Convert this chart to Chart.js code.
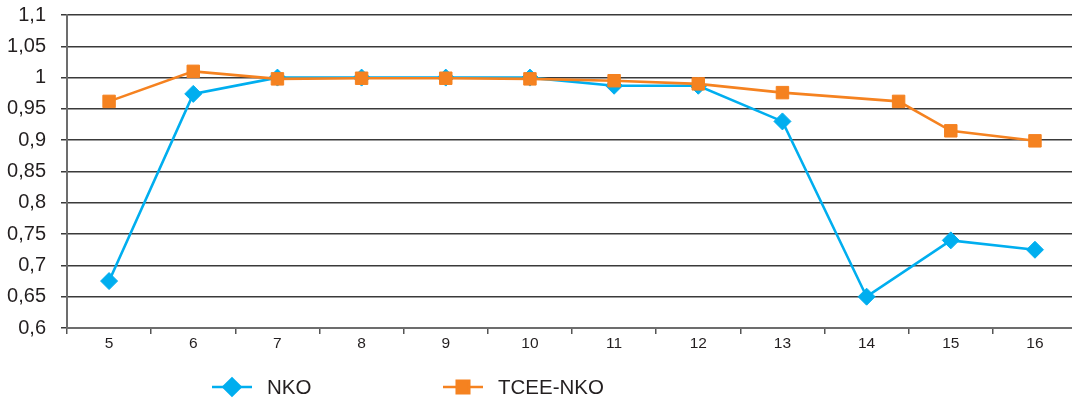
<!DOCTYPE html>
<html>
<head>
<meta charset="utf-8">
<script src="https://cdn.jsdelivr.net/npm/chart.js@4.4.0/dist/chart.umd.min.js"></script>
<style>
  html, body { margin: 0; padding: 0; background: #fff; overflow: hidden; }
  canvas { display: block; }
</style>
</head>
<body>
<canvas id="chart" width="1072" height="406"></canvas>
<script>
// Category positions along the x axis
const categories = [5, 6, 7, 8, 9, 10, 11, 12, 13, 14, 15, 16];

// NKO series
const nkoX = [5, 6, 7, 8, 9, 10, 11, 12, 13, 14, 15, 16];
const nkoValues = [0.675, 0.974, 1.0, 1.0, 1.0, 1.0, 0.987, 0.987, 0.930, 0.650, 0.740, 0.725];

// TCEE-NKO series
const tceeX = [5, 6, 7, 8, 9, 10, 11, 12, 13, 14.38, 15, 16];
const tceeValues = [0.962, 1.010, 0.998, 0.999, 0.999, 0.998, 0.995, 0.990, 0.976, 0.962, 0.915, 0.899];

// Value axis ticks
const yTicks = [0.6, 0.65, 0.7, 0.75, 0.8, 0.85, 0.9, 0.95, 1.0, 1.05, 1.1];

const seriesNames = ['NKO', 'TCEE-NKO'];

const BLUE = '#00AEEF';
const ORANGE = '#F58220';
const TEXT = '#231F20';
const FONT = '"Liberation Sans", Arial, Helvetica, sans-serif';

const toPoints = (xs, ys) => xs.map((x, i) => ({ x: x, y: ys[i] }));
const fmtComma = v => String(Math.round(v * 100) / 100).replace('.', ',');

// Legend below the plot: a short line with the series marker, then the name
const lineLegend = {
  id: 'lineLegend',
  afterDraw(chart, args, opts) {
    const ctx = chart.ctx;
    ctx.save();
    chart.data.datasets.slice().sort((a, b) => a.legendIndex - b.legendIndex).forEach((ds, i) => {
      const x0 = opts.starts[i];
      const y = opts.y;
      ctx.strokeStyle = ds.borderColor;
      ctx.lineWidth = ds.borderWidth;
      ctx.beginPath();
      ctx.moveTo(x0, y);
      ctx.lineTo(x0 + opts.lineLen, y);
      ctx.stroke();
      ctx.fillStyle = ds.pointBackgroundColor;
      ctx.strokeStyle = ds.pointBorderColor;
      Chart.helpers.drawPoint(ctx, {
        pointStyle: ds.pointStyle,
        radius: ds.pointRadius,
        rotation: 0,
        borderWidth: ds.pointBorderWidth
      }, x0 + opts.lineLen / 2, y);
      ctx.fillStyle = TEXT;
      ctx.font = opts.font;
      ctx.textAlign = 'left';
      ctx.textBaseline = 'middle';
      ctx.fillText(ds.label, x0 + opts.lineLen + opts.gap, y + 1);
    });
    ctx.restore();
  }
};

new Chart(document.getElementById('chart'), {
  type: 'line',
  data: {
    datasets: [
      {
        label: seriesNames[1],
        legendIndex: 1,
        data: toPoints(tceeX, tceeValues),
        borderColor: ORANGE,
        backgroundColor: ORANGE,
        borderWidth: 2.6,
        pointStyle: 'rect',
        pointRadius: 8.8,
        pointBackgroundColor: ORANGE,
        pointBorderColor: ORANGE,
        pointBorderWidth: 1,
        tension: 0,
        order: 1
      },
      {
        label: seriesNames[0],
        legendIndex: 0,
        data: toPoints(nkoX, nkoValues),
        borderColor: BLUE,
        backgroundColor: BLUE,
        borderWidth: 2.6,
        pointStyle: 'rectRot',
        pointRadius: 8.5,
        pointBackgroundColor: BLUE,
        pointBorderColor: BLUE,
        pointBorderWidth: 1,
        tension: 0,
        order: 2
      }
    ]
  },
  options: {
    responsive: false,
    animation: false,
    events: [],
    layout: { autoPadding: false, padding: { top: 15, right: 0, left: 0, bottom: 0 } },
    plugins: {
      legend: { display: false },
      tooltip: { enabled: false },
      lineLegend: {
        starts: [212, 443],
        y: 387,
        lineLen: 40,
        gap: 15,
        font: '20.5px ' + FONT
      }
    },
    scales: {
      x: {
        type: 'linear',
        min: 4.5,
        max: 16.44,
        afterBuildTicks: s => { s.ticks = categories.map(v => ({ value: v })); },
        afterFit: s => { s.height = 78; s.paddingLeft = 0; s.paddingRight = 0; },
        ticks: {
          autoSkip: false,
          maxRotation: 0,
          padding: 0,
          color: TEXT,
          font: { family: FONT, size: 15.5 },
          callback: v => String(v)
        },
        grid: {
          offset: true,
          drawOnChartArea: false,
          drawTicks: true,
          tickLength: 6,
          color: '#555',
          lineWidth: 1.5
        },
        border: { color: '#6d6d6d', width: 2 }
      },
      y: {
        type: 'linear',
        min: 0.6,
        max: 1.1,
        afterBuildTicks: s => { s.ticks = yTicks.map(v => ({ value: v })); },
        afterFit: s => { s.width = 67; s.paddingTop = 0; s.paddingBottom = 0; },
        ticks: {
          padding: 15,
          color: TEXT,
          font: { family: FONT, size: 20 },
          callback: v => fmtComma(v)
        },
        grid: {
          color: '#3a3a3a',
          lineWidth: 1.5,
          tickLength: 6,
          drawTicks: true
        },
        border: { color: '#6d6d6d', width: 2 }
      }
    }
  },
  plugins: [lineLegend]
});
</script>
</body>
</html>
